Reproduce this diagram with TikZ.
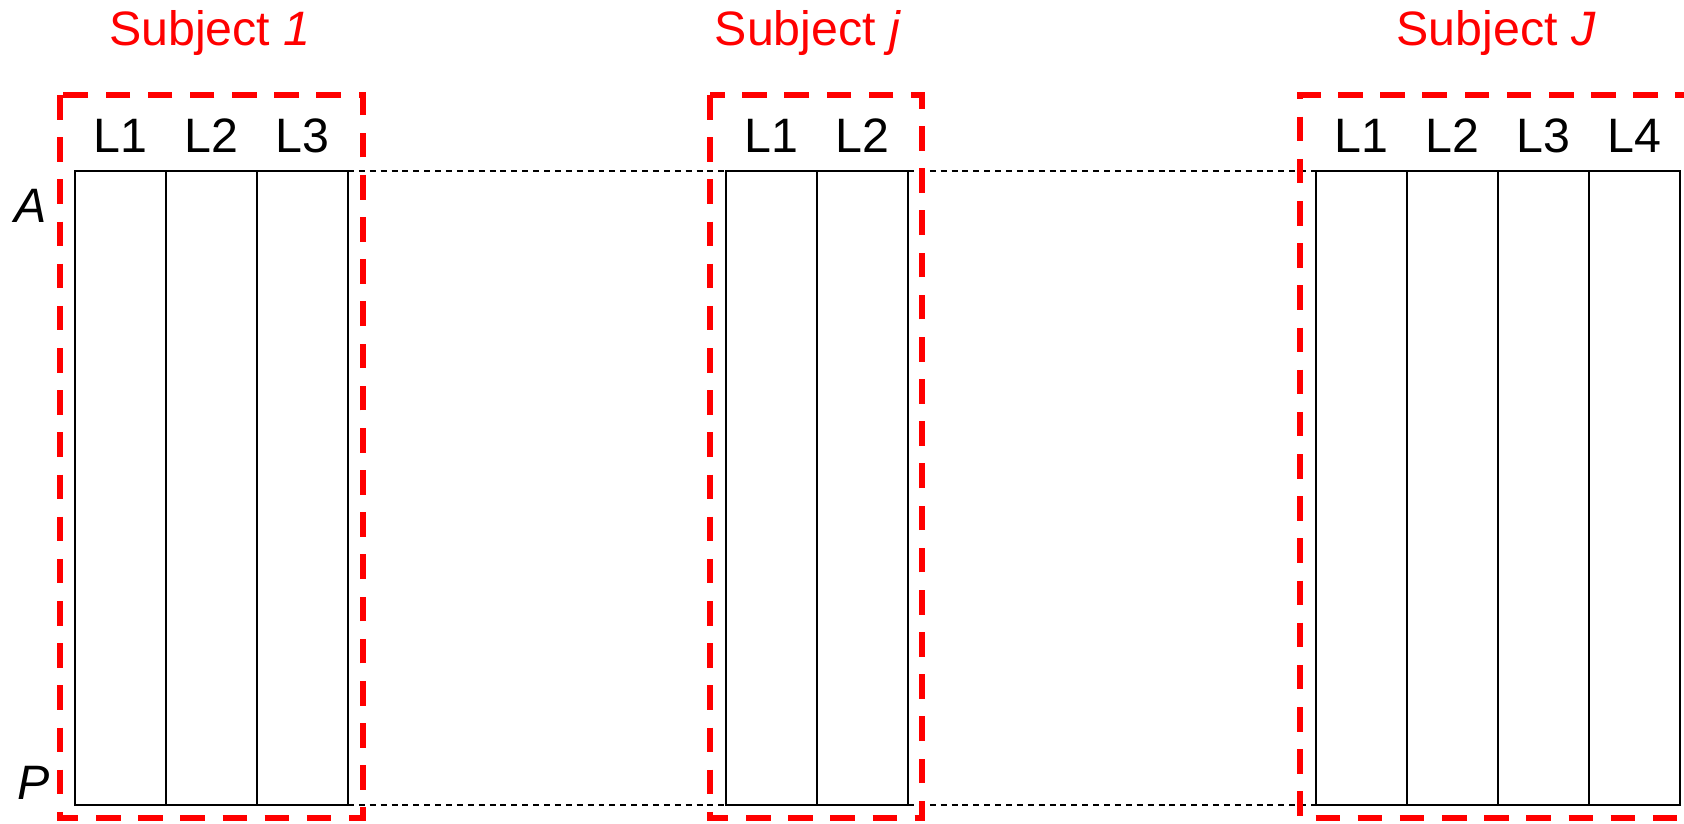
\documentclass[tikz,border=0pt]{standalone}
\usepackage{fontspec}
\setmainfont{Liberation Sans}
\usetikzlibrary{positioning}
\definecolor{subjred}{RGB}{255,0,0}

\begin{document}
\begin{tikzpicture}[x=0.02cm, y=-0.02cm,
  lane/.style={draw, line width=0.9pt, minimum width=1.82cm, minimum height=12.68cm, inner sep=0pt, outer sep=0pt},
  lanelbl/.style={inner sep=0pt, font=\fontsize{27.5}{33}\selectfont},
  rowlbl/.style={anchor=base, inner sep=0pt, font=\fontsize{27.5}{33}\selectfont\itshape},
  subjlbl/.style={anchor=base, inner sep=0pt, text=subjred, font=\fontsize{27.5}{33}\selectfont},
  subjbox/.style={subjred, line width=3.1pt, dash pattern=on 14pt off 10pt},
  gap/.style={line width=0.8pt, dash pattern=on 3.4pt off 2.8pt}]
\useasboundingbox (0,0) rectangle (1684,823);

% Subject 1
\node[lane] (a1) at (120.5,488) {};
\node[lane, right=0pt of a1] (a2) {};
\node[lane, right=0pt of a2] (a3) {};

% Subject j
\node[lane] (b1) at (771.5,488) {};
\node[lane, right=0pt of b1] (b2) {};

% Subject J
\node[lane] (c1) at (1361.5,488) {};
\node[lane, right=0pt of c1] (c2) {};
\node[lane, right=0pt of c2] (c3) {};
\node[lane, right=0pt of c3] (c4) {};

% Lane labels
\foreach \c/\t in {a1/L1, a2/L2, a3/L3, b1/L1, b2/L2, c1/L1, c2/L2, c3/L3, c4/L4} {
    \node[lanelbl, above=0.36cm of \c] (\c lbl) {\t};
}

% Row labels
\node[rowlbl] (rowA) at (31,222) {A};
\node[rowlbl] (rowP) at (34,799) {P};

% Subject titles
\node[subjlbl] (subj1) at (210,45) {Subject \textit{1}};
\node[subjlbl] (subjj) at (808,45) {Subject \textit{j}};
\node[subjlbl] (subjJ) at (1496,45) {Subject \textit{J}};

% Dotted links between subjects
\draw[gap] (a3.north east) -- (b1.north west);
\draw[gap] (a3.south east) -- (b1.south west);
\draw[gap] (b2.north east) -- (c1.north west);
\draw[gap] (b2.south east) -- (c1.south west);

% Subject frames
\draw[subjbox] (60,95) rectangle (363,818);
\draw[subjbox] (710,95) rectangle (922,818);
\draw[subjbox] (1700,95) -- (1300,95) -- (1300,818) -- (1700,818);
\end{tikzpicture}
\end{document}
